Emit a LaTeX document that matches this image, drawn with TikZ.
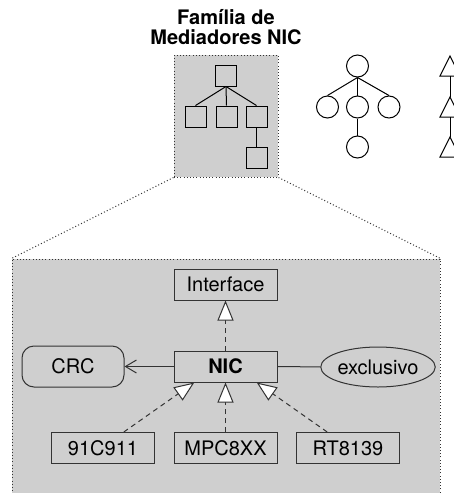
\documentclass[tikz,border=0pt]{standalone}
\usepackage{fontspec}
\setmainfont{TeX Gyre Heros}
\usetikzlibrary{arrows.meta,shapes.geometric,calc}

\begin{document}
\begin{tikzpicture}[x=1pt,y=-1pt,line width=1pt,
	every node/.style={font=\fontsize{20}{24}\selectfont},
	pontos/.style={draw=black!80,dash pattern=on 1pt off 2.2pt},
	classe/.style={draw=black!80,minimum width=103pt,minimum height=31pt,inner sep=0pt},
	quad/.style={draw,minimum size=21pt,inner sep=0pt},
	bola/.style={draw,circle,minimum size=22pt,inner sep=0pt},
	herda/.style={draw=black!80,dash pattern=on 5pt off 4pt,-{Triangle[length=20pt,width=16pt,fill=white]}},
	usa/.style={draw=black!80,-{Straight Barb[length=11pt,width=13pt]}}]
	\useasboundingbox (0,0) rectangle (454,493);
	\node[pontos,fill=black!19,minimum width=428pt,minimum height=260pt] (zoom) at (226,389) {};
	\node[pontos,fill=black!19,minimum width=104pt,minimum height=122pt] (familia) at (226,116) {};
	\node[font=\bfseries\fontsize{20}{20}\selectfont,align=center,anchor=south,inner sep=0pt] (titulo) at (226,45) {Família de\\Mediadores NIC};
	\draw[pontos] (familia.south west) -- (zoom.north west);
	\draw[pontos] (familia.south east) -- (zoom.north east);

	\node[quad] (r) at (226,75.5) {};
	\node[quad] (q1) at (195.5,116.5) {};
	\node[quad] (q2) at (226.5,116.5) {};
	\node[quad] (q3) at (256.5,116.5) {};
	\node[quad] (q4) at (256.5,157.5) {};
	\foreach \q in {q1,q2,q3} \draw (r.south) -- (\q.north);
	\draw (q3) -- (q4);

	\node[bola] (o) at (357.5,66) {};
	\node[bola] (o1) at (327.5,107) {};
	\node[bola] (o2) at (357.5,107) {};
	\node[bola] (o3) at (389,107) {};
	\node[bola] (o4) at (357.5,147) {};
	\foreach \b in {o1,o2,o3} \draw (o.south) -- (\b.north);
	\draw (o2) -- (o4);

	\foreach \i/\y in {1/56,2/97,3/137} {
		\draw (440,\y+20) -- (450,\y) -- (460,\y+20) -- cycle;
		\coordinate (tp\i) at (450,\y);
		\coordinate (tb\i) at (450,\y+20);
	}
	\draw (tb1) -- (tp2);
	\draw (tb2) -- (tp3);

	\node[classe] (interface) at (225.5,284.5) {Interface};
	\node[classe,font=\bfseries\fontsize{20}{24}\selectfont] (nic) at (225.5,366.5) {NIC};
	\node[draw=black!80,rounded corners=12pt,minimum width=102pt,minimum height=41pt,inner sep=0pt] (crc) at (73,366.5) {CRC};
	\node[draw=black!80,ellipse,minimum width=102pt,minimum height=40pt,inner sep=0pt] (exclusivo) at (378,367) {exclusivo};
	\node[classe] (c1) at (103,448) {91C911};
	\node[classe] (c2) at (225.5,448) {MPC8XX};
	\node[classe] (c3) at (348,448) {RT8139};

	\draw[herda] (nic) -- (interface);
	\draw[usa] (nic) -- (crc);
	\draw[black!80] (nic) -- (exclusivo);
	\draw[herda] ($(c1.north)!0.4!(c1.north east)$) -- ($(nic.south)!0.6!(nic.south west)$);
	\draw[herda] (c2) -- (nic);
	\draw[herda] ($(c3.north)!0.4!(c3.north west)$) -- ($(nic.south)!0.6!(nic.south east)$);
\end{tikzpicture}
\end{document}
